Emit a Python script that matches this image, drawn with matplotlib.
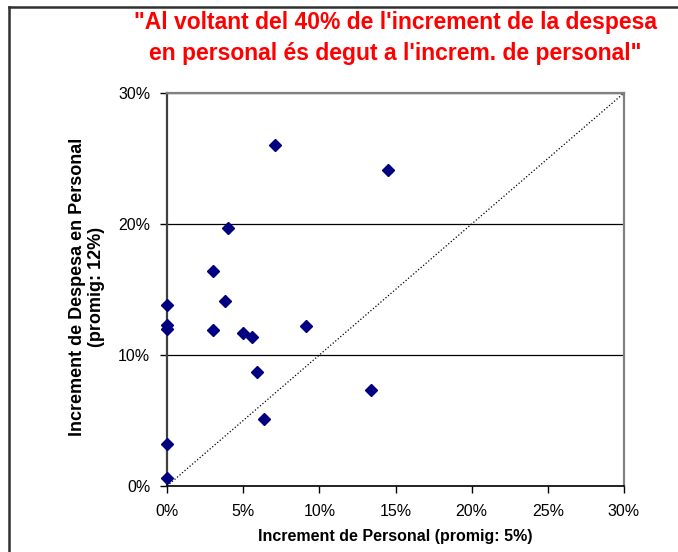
import matplotlib.pyplot as plt
from matplotlib.ticker import PercentFormatter
from matplotlib.lines import Line2D

plt.rcParams["font.family"] = ["Liberation Sans", "DejaVu Sans"]

# Increment de Personal (%) vs Increment de Despesa en Personal (%)
inc_personal = [7.1, 14.5, 4.0, 3.0, 3.8, 0.0, 0.0, 0.0, 3.0, 5.0, 5.6, 9.1, 5.9, 13.4, 6.4, 0.0, 0.0]
inc_despesa = [26.0, 24.1, 19.7, 16.4, 14.1, 13.8, 12.3, 12.0, 11.9, 11.7, 11.4, 12.2, 8.7, 7.3, 5.1, 3.2, 0.6]

title = "\"Al voltant del 40% de l'increment de la despesa\nen personal és degut a l'increm. de personal\""
xlabel = "Increment de Personal (promig: 5%)"
ylabel = "Increment de Despesa en Personal\n(promig: 12%)"

fig = plt.figure(figsize=(6.78, 5.52), dpi=100)
ax = fig.add_axes([167 / 678, 66 / 552, 457 / 678, 393 / 552])

# reference line y = x
ax.plot([0, 30], [0, 30], color="black", linestyle=":", linewidth=0.9, zorder=2)
ax.plot(inc_personal, inc_despesa, linestyle="none", marker="D", markersize=6.5,
        color="#000080", zorder=3, clip_on=False)

ax.set_xlim(0, 30)
ax.set_ylim(0, 30)
ax.set_xticks(range(0, 31, 5))
ax.set_yticks(range(0, 31, 10))
ax.xaxis.set_major_formatter(PercentFormatter(decimals=0))
ax.yaxis.set_major_formatter(PercentFormatter(decimals=0))
ax.tick_params(direction="out", length=5, width=1, labelsize=11.5, color="black")
ax.tick_params(axis="x", pad=8)
ax.tick_params(axis="y", pad=7)

ax.yaxis.grid(True, color="black", linewidth=0.9)
ax.set_axisbelow(True)

ax.spines["left"].set_color("#404040")
ax.spines["left"].set_linewidth(1.6)
ax.spines["bottom"].set_color("black")
ax.spines["bottom"].set_linewidth(1.2)
for s in ["top", "right"]:
    ax.spines[s].set_color("#808080")
    ax.spines[s].set_linewidth(1.6)

ax.set_xlabel(xlabel, fontsize=11.5, fontweight="bold", labelpad=7)
fig.text(87 / 678, 1 - 287 / 552, ylabel, rotation=90, ha="center", va="center",
         fontsize=13, fontweight="bold", linespacing=1.1, multialignment="center")

fig.text(395 / 678, 1 - 38 / 552, title, ha="center", va="center", color="red",
         fontsize=16.5, fontweight="bold", linespacing=1.43)

# outer frame (top and left edges visible)
fig.add_artist(Line2D([9 / 678, 1], [1 - 7 / 552, 1 - 7 / 552], color="#303030", linewidth=1.8))
fig.add_artist(Line2D([9 / 678, 9 / 678], [0, 1 - 7 / 552], color="#303030", linewidth=1.8))

fig.savefig("out.png", dpi=100)
